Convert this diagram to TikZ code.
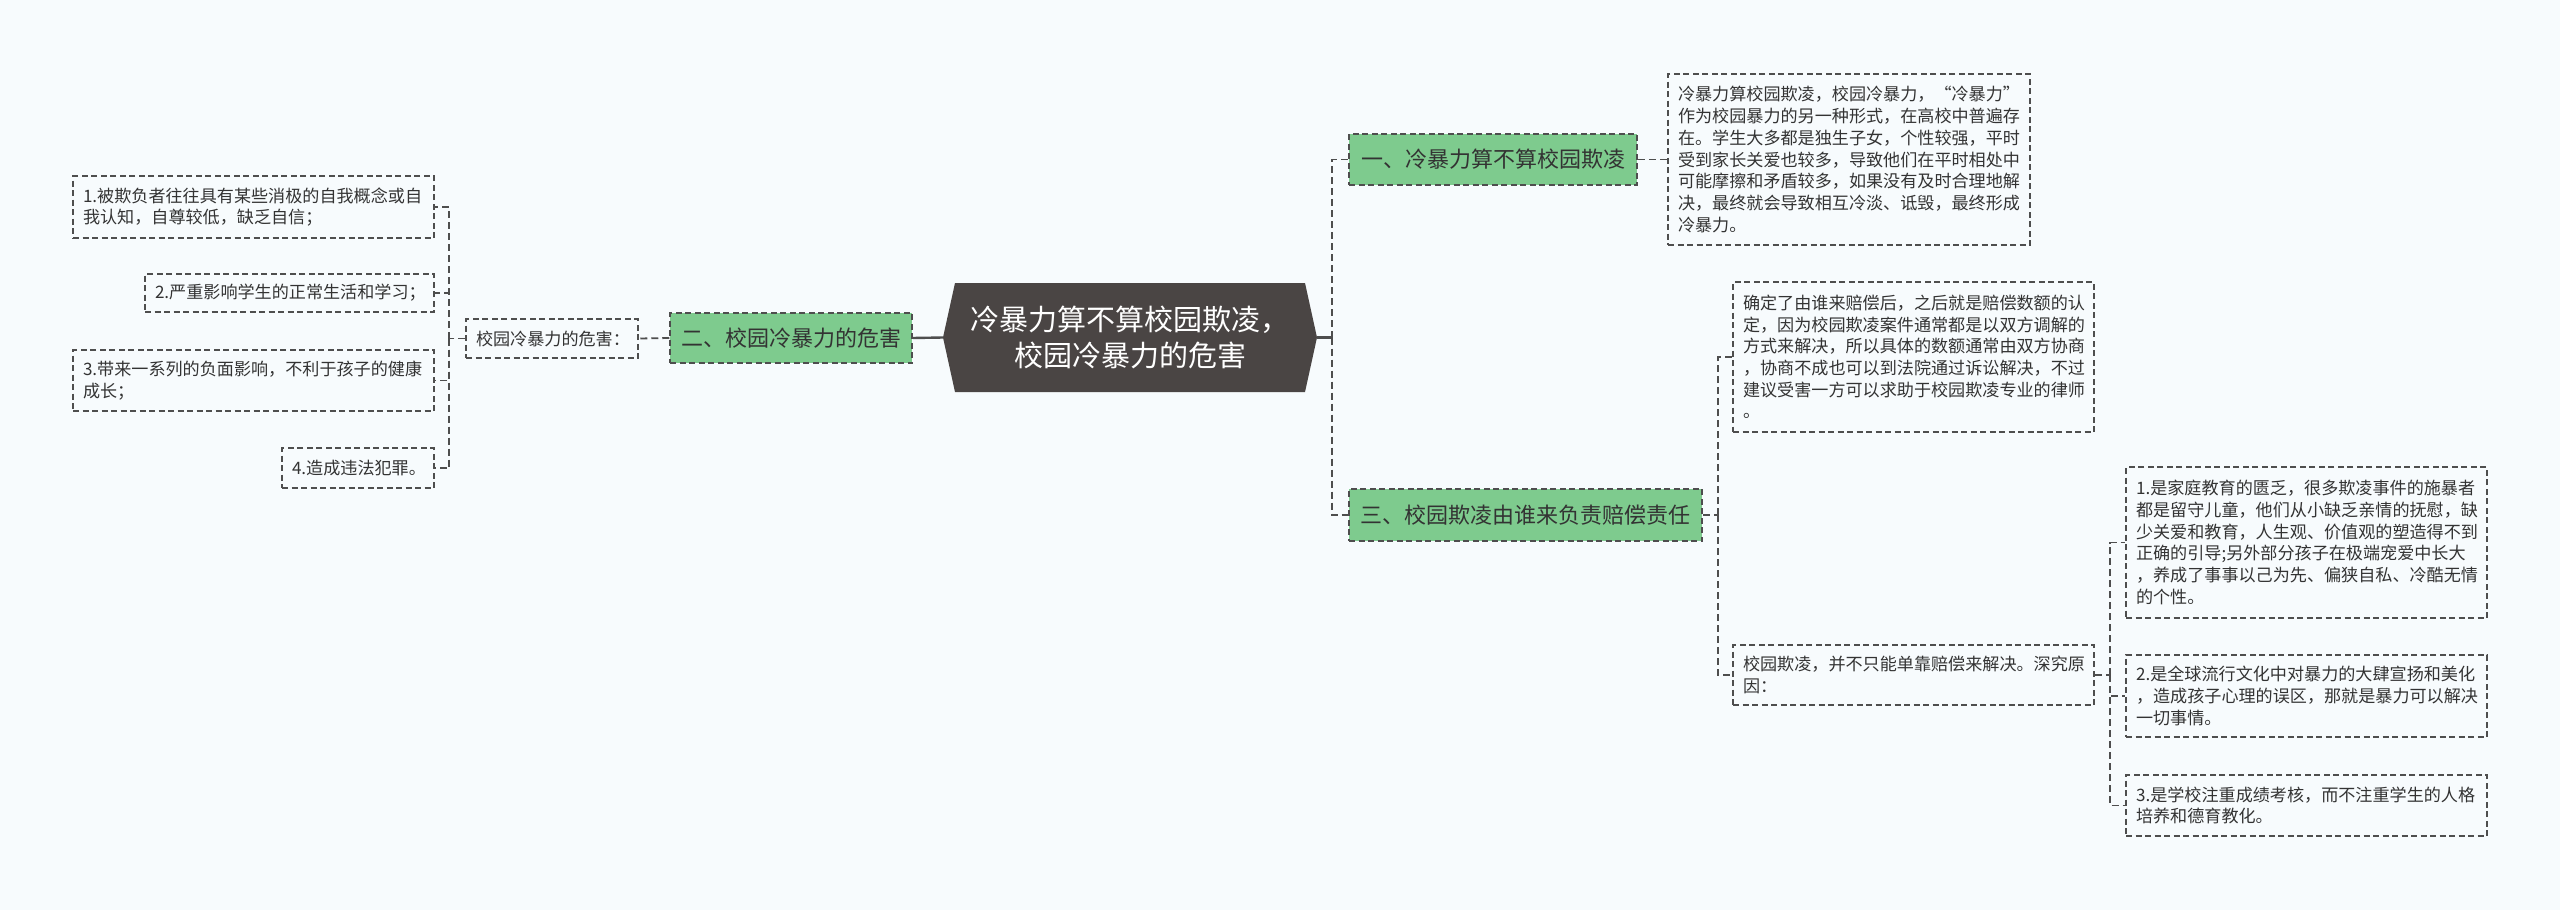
\documentclass[tikz,border=0pt]{standalone}
\usepackage{fontspec}
\setmainfont{Noto Sans CJK SC}
\usetikzlibrary{calc}
\definecolor{bgc}{RGB}{247,251,253}
\definecolor{linec}{RGB}{78,78,78}
\definecolor{greenc}{RGB}{126,203,142}
\definecolor{rootc}{RGB}{74,69,68}
\definecolor{textc}{RGB}{51,51,51}
\tikzset{
  con/.style={draw=linec, line width=1.8pt, dash pattern=on 7pt off 4pt},
  solidcon/.style={draw=linec, line width=2.4pt},
  tbox/.style={draw=linec, line width=1.5pt, dash pattern=on 6pt off 3.5pt, rectangle,
    inner xsep=10pt, inner ysep=0pt, align=left, text=textc,
    font=\fontsize{17.1}{21.7}\selectfont},
  gbox/.style={draw=linec, fill=greenc, line width=1.5pt, dash pattern=on 6pt off 3.5pt,
    rectangle, inner sep=0pt, align=center, text=textc,
    font=\fontsize{22}{26}\selectfont},
  rootbox/.style={rectangle, inner sep=0pt, align=center, text=white,
    minimum width=374pt, minimum height=109pt,
    font=\fontsize{29}{36}\selectfont},
}
\begin{document}
\begin{tikzpicture}[x=1pt,y=-1pt]
\useasboundingbox (0,0) rectangle (2560,910);
\fill[bgc] (0,0) rectangle (2560,910);

% root shape
\coordinate (rc) at (1130,337.5);
\fill[rootc] ($(rc)+(-187,0)$) -- ($(rc)+(-175,-54.5)$) -- ($(rc)+(175,-54.5)$)
  -- ($(rc)+(187,0)$) -- ($(rc)+(175,54.5)$) -- ($(rc)+(-175,54.5)$) -- cycle;
\node[rootbox] (root) at (rc) {冷暴力算不算校园欺凌，\\校园冷暴力的危害};

% left branch
\node[gbox, minimum width=242pt, minimum height=50pt] (G2) at (791,338) {二、校园冷暴力的危害};
\node[tbox, text width=152pt, minimum height=39pt] (H) at (552,338.5) {校园冷暴力的危害：};
\node[tbox, text width=341pt, minimum height=62pt] (L1) at (253.5,207) {1.被欺负者往往具有某些消极的自我概念或自\\我认知，自尊较低，缺乏自信；};
\node[tbox, text width=269pt, minimum height=38pt] (L2) at (289.5,293) {2.严重影响学生的正常生活和学习；};
\node[tbox, text width=341pt, minimum height=61pt] (L3) at (253.5,380.5) {3.带来一系列的负面影响，不利于孩子的健康\\成长；};
\node[tbox, text width=132pt, minimum height=40pt] (L4) at (358,468) {4.造成违法犯罪。};

% right branch 1
\node[gbox, minimum width=288pt, minimum height=51pt] (G1) at (1493,159.5) {一、冷暴力算不算校园欺凌};
\node[tbox, text width=342pt, minimum height=171pt] (T1) at (1849,159.5) {冷暴力算校园欺凌，校园冷暴力，“冷暴力”\\作为校园暴力的另一种形式，在高校中普遍存\\在。学生大多都是独生子女，个性较强，平时\\受到家长关爱也较多，导致他们在平时相处中\\可能摩擦和矛盾较多，如果没有及时合理地解\\决，最终就会导致相互冷淡、诋毁，最终形成\\冷暴力。};

% right branch 3
\node[gbox, minimum width=353pt, minimum height=52pt] (G3) at (1525.5,515) {三、校园欺凌由谁来负责赔偿责任};
\node[tbox, text width=341pt, minimum height=150pt] (C1) at (1913.5,357) {确定了由谁来赔偿后，之后就是赔偿数额的认\\定，因为校园欺凌案件通常都是以双方调解的\\方式来解决，所以具体的数额通常由双方协商\\，协商不成也可以到法院通过诉讼解决，不过\\建议受害一方可以求助于校园欺凌专业的律师\\。};
\node[tbox, text width=341pt, minimum height=60pt] (C2) at (1913.5,675) {校园欺凌，并不只能单靠赔偿来解决。深究原\\因：};
\node[tbox, text width=341pt, minimum height=151pt] (R1) at (2306.5,542.5) {1.是家庭教育的匮乏，很多欺凌事件的施暴者\\都是留守儿童，他们从小缺乏亲情的抚慰，缺\\少关爱和教育，人生观、价值观的塑造得不到\\正确的引导;另外部分孩子在极端宠爱中长大\\，养成了事事以己为先、偏狭自私、冷酷无情\\的个性。};
\node[tbox, text width=341pt, minimum height=82pt] (R2) at (2306.5,696) {2.是全球流行文化中对暴力的大肆宣扬和美化\\，造成孩子心理的误区，那就是暴力可以解决\\一切事情。};
\node[tbox, text width=341pt, minimum height=61pt] (R3) at (2306.5,805.5) {3.是学校注重成绩考核，而不注重学生的人格\\培养和德育教化。};

% junctions
\coordinate (jR) at (1332,337.5);
\coordinate (jL) at (449,338.5);
\coordinate (jC) at (1718,515);
\coordinate (jD) at (2110,675);

% connectors
\draw[solidcon] (root.west) -- (G2.east);
\draw[solidcon] (root.east) -- (jR);
\draw[con] (jR) |- (G1.west);
\draw[con] (jR) |- (G3.west);
\draw[con] (G2.west) -- (H.east);
\draw[con] (H.west) -- (jL);
\draw[con] (jL) |- (L1.east);
\draw[con] (jL) |- (L2.east);
\draw[con] (jL) |- (L3.east);
\draw[con] (jL) |- (L4.east);
\draw[con] (G1.east) -- (T1.west);
\draw[con] (G3.east) -- (jC);
\draw[con] (jC) |- (C1.west);
\draw[con] (jC) |- (C2.west);
\draw[con] (C2.east) -- (jD);
\draw[con] (jD) |- (R1.west);
\draw[con] (jD) |- (R2.west);
\draw[con] (jD) |- (R3.west);
\end{tikzpicture}
\end{document}
